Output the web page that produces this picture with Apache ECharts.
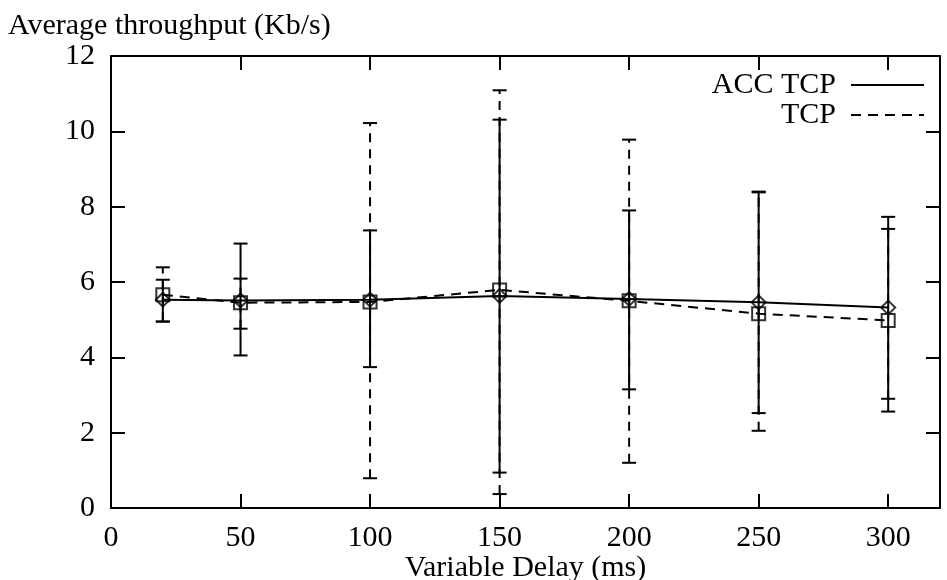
<!DOCTYPE html>
<html>
<head>
<meta charset="utf-8">
<script src="https://cdn.jsdelivr.net/npm/echarts@6/dist/echarts.min.js"></script>
<style>
html,body{margin:0;padding:0;background:#fff;}
#chart{width:947px;height:580px;}
</style>
</head>
<body>
<div id="chart"></div>
<script>
const delays = [20, 50, 100, 150, 200, 250, 300];
const accMean = [5.53, 5.51, 5.53, 5.63, 5.55, 5.46, 5.32];
const accLow  = [4.95, 4.05, 3.74, 0.94, 3.15, 2.52, 2.56];
const accHigh = [6.06, 7.02, 7.37, 10.31, 7.90, 8.40, 7.73];
const tcpMean = [5.66, 5.45, 5.47, 5.79, 5.50, 5.16, 4.98];
const tcpLow  = [4.95, 4.76, 0.79, 0.37, 1.20, 2.05, 2.90];
const tcpHigh = [6.39, 6.09, 10.22, 11.09, 9.78, 8.38, 7.41];
const xTicks = [0, 50, 100, 150, 200, 250, 300];
const yTicks = [0, 2, 4, 6, 8, 10, 12];

const FONT = "'Liberation Serif', 'Times New Roman', serif";
const FS = 30;
const chart = echarts.init(document.getElementById('chart'));

function errData(low, high) {
  return delays.map((d, i) => [d, low[i], high[i]]);
}
function errRender(dash) {
  return function (params, api) {
    const x = api.value(0);
    const lo = api.coord([x, api.value(1)]);
    const hi = api.coord([x, api.value(2)]);
    const w = 7;
    const st = {stroke: '#000', lineWidth: 2, fill: null};
    return {
      type: 'group',
      children: [
        {type: 'line', shape: {x1: lo[0], y1: lo[1], x2: hi[0], y2: hi[1]},
         style: Object.assign({}, st, {lineDash: dash ? [9, 7] : null})},
        {type: 'line', shape: {x1: lo[0] - w, y1: lo[1], x2: lo[0] + w, y2: lo[1]}, style: st},
        {type: 'line', shape: {x1: hi[0] - w, y1: hi[1], x2: hi[0] + w, y2: hi[1]}, style: st}
      ]
    };
  };
}

function axisCommon() {
  return {
    axisLine: {show: true, onZero: false, lineStyle: {color: '#000', width: 2}},
    axisTick: {show: true, inside: true, length: 14, lineStyle: {color: '#000', width: 2}},
    splitLine: {show: false}
  };
}

const option = {
  animation: false,
  backgroundColor: '#fff',
  textStyle: {fontFamily: FONT},
  grid: {left: 111, right: 7, top: 56, bottom: 72, containLabel: false, outerBoundsMode: 'none'},
  legend: {
    orient: 'vertical', align: 'right', right: 22, top: 70, padding: 0,
    itemGap: 0, itemWidth: 73, itemHeight: 14,
    selectedMode: false,
    itemStyle: {color: 'rgba(0,0,0,0)', borderColor: 'rgba(0,0,0,0)', borderWidth: 0},
    data: ['ACC TCP', 'TCP'],
    textStyle: {fontFamily: FONT, fontSize: FS, color: '#000', lineHeight: 30, padding: [0, 10, 0, 0]}
  },
  xAxis: [
    Object.assign(axisCommon(), {
      type: 'value', min: 0, max: 320, interval: 50, position: 'bottom',
      name: 'Variable Delay (ms)', nameLocation: 'middle', nameGap: 45, nameMoveOverlap: false,
      nameTextStyle: {fontFamily: FONT, fontSize: FS, color: '#000'},
      axisLabel: {fontFamily: FONT, fontSize: FS, color: '#000', margin: 15, showMaxLabel: false,
        formatter: v => xTicks.indexOf(v) >= 0 ? String(v) : ''}
    }),
    Object.assign(axisCommon(), {
      type: 'value', min: 0, max: 320, interval: 50, position: 'top',
      axisLabel: {show: false}
    })
  ],
  yAxis: [
    Object.assign(axisCommon(), {
      type: 'value', min: 0, max: 12, interval: 2, position: 'left',
      axisLabel: {fontFamily: FONT, fontSize: FS, color: '#000', margin: 16,
        formatter: v => yTicks.indexOf(v) >= 0 ? String(v) : ''}
    }),
    Object.assign(axisCommon(), {
      type: 'value', min: 0, max: 12, interval: 2, position: 'right',
      axisLabel: {show: false}
    })
  ],
  graphic: [{
    type: 'text', left: 8, top: 11,
    style: {text: 'Average throughput (Kb/s)', font: FS + 'px ' + FONT, fill: '#000'}
  }],
  series: [
    {type: 'custom', name: 'accErr', data: errData(accLow, accHigh), renderItem: errRender(false),
     encode: {x: 0, y: [1, 2]}, silent: true, z: 1},
    {type: 'custom', name: 'tcpErr', data: errData(tcpLow, tcpHigh), renderItem: errRender(true),
     encode: {x: 0, y: [1, 2]}, silent: true, z: 1},
    {type: 'line', name: 'ACC TCP', data: delays.map((d, i) => [d, accMean[i]]),
     symbol: 'none', lineStyle: {color: '#000', width: 2, type: 'solid'}, itemStyle: {color: '#000'}, z: 2},
    {type: 'line', name: 'TCP', data: delays.map((d, i) => [d, tcpMean[i]]),
     symbol: 'none', lineStyle: {color: '#000', width: 2, type: [10, 7]}, itemStyle: {color: '#000'}, z: 2},
    {type: 'scatter', name: 'accPts', data: delays.map((d, i) => [d, accMean[i]]),
     symbol: 'diamond', symbolSize: 14, itemStyle: {color: 'rgba(0,0,0,0)', borderColor: '#000', borderWidth: 2}, z: 3},
    {type: 'scatter', name: 'tcpPts', data: delays.map((d, i) => [d, tcpMean[i]]),
     symbol: 'rect', symbolSize: 13, itemStyle: {color: 'rgba(0,0,0,0)', borderColor: '#000', borderWidth: 2}, z: 3}
  ]
};
chart.setOption(option);
</script>
</body>
</html>
